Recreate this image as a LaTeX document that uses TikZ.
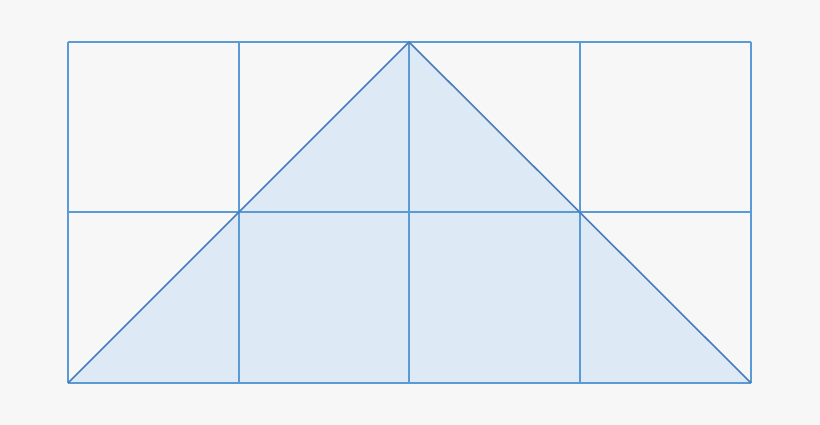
\documentclass[tikz,border=0pt]{standalone}
\definecolor{bg}{HTML}{F7F7F7}
\definecolor{gridc}{HTML}{5B9BD5}
\definecolor{edgec}{HTML}{4A7EBB}
\definecolor{fillc}{HTML}{DDE9F5}
\begin{document}
\begin{tikzpicture}[x=1pt,y=-1pt,
  gridline/.style={draw=gridc,line width=1.6pt},
  triedge/.style={draw=edgec,line width=1.6pt,line join=miter}]
\fill[bg] (0,0) rectangle (820,425);
\useasboundingbox (0,0) rectangle (820,425);
\coordinate (A) at (68,383);
\coordinate (B) at (409,42);
\coordinate (C) at (751,383);
\fill[fillc] (A) -- (B) -- (C) -- cycle;
\foreach \x in {68,239,409,580,751} \draw[gridline] (\x,42) -- (\x,383);
\foreach \y in {42,212,383} \draw[gridline] (68,\y) -- (751,\y);
\draw[triedge] (A) -- (B) -- (C);
\end{tikzpicture}
\end{document}
